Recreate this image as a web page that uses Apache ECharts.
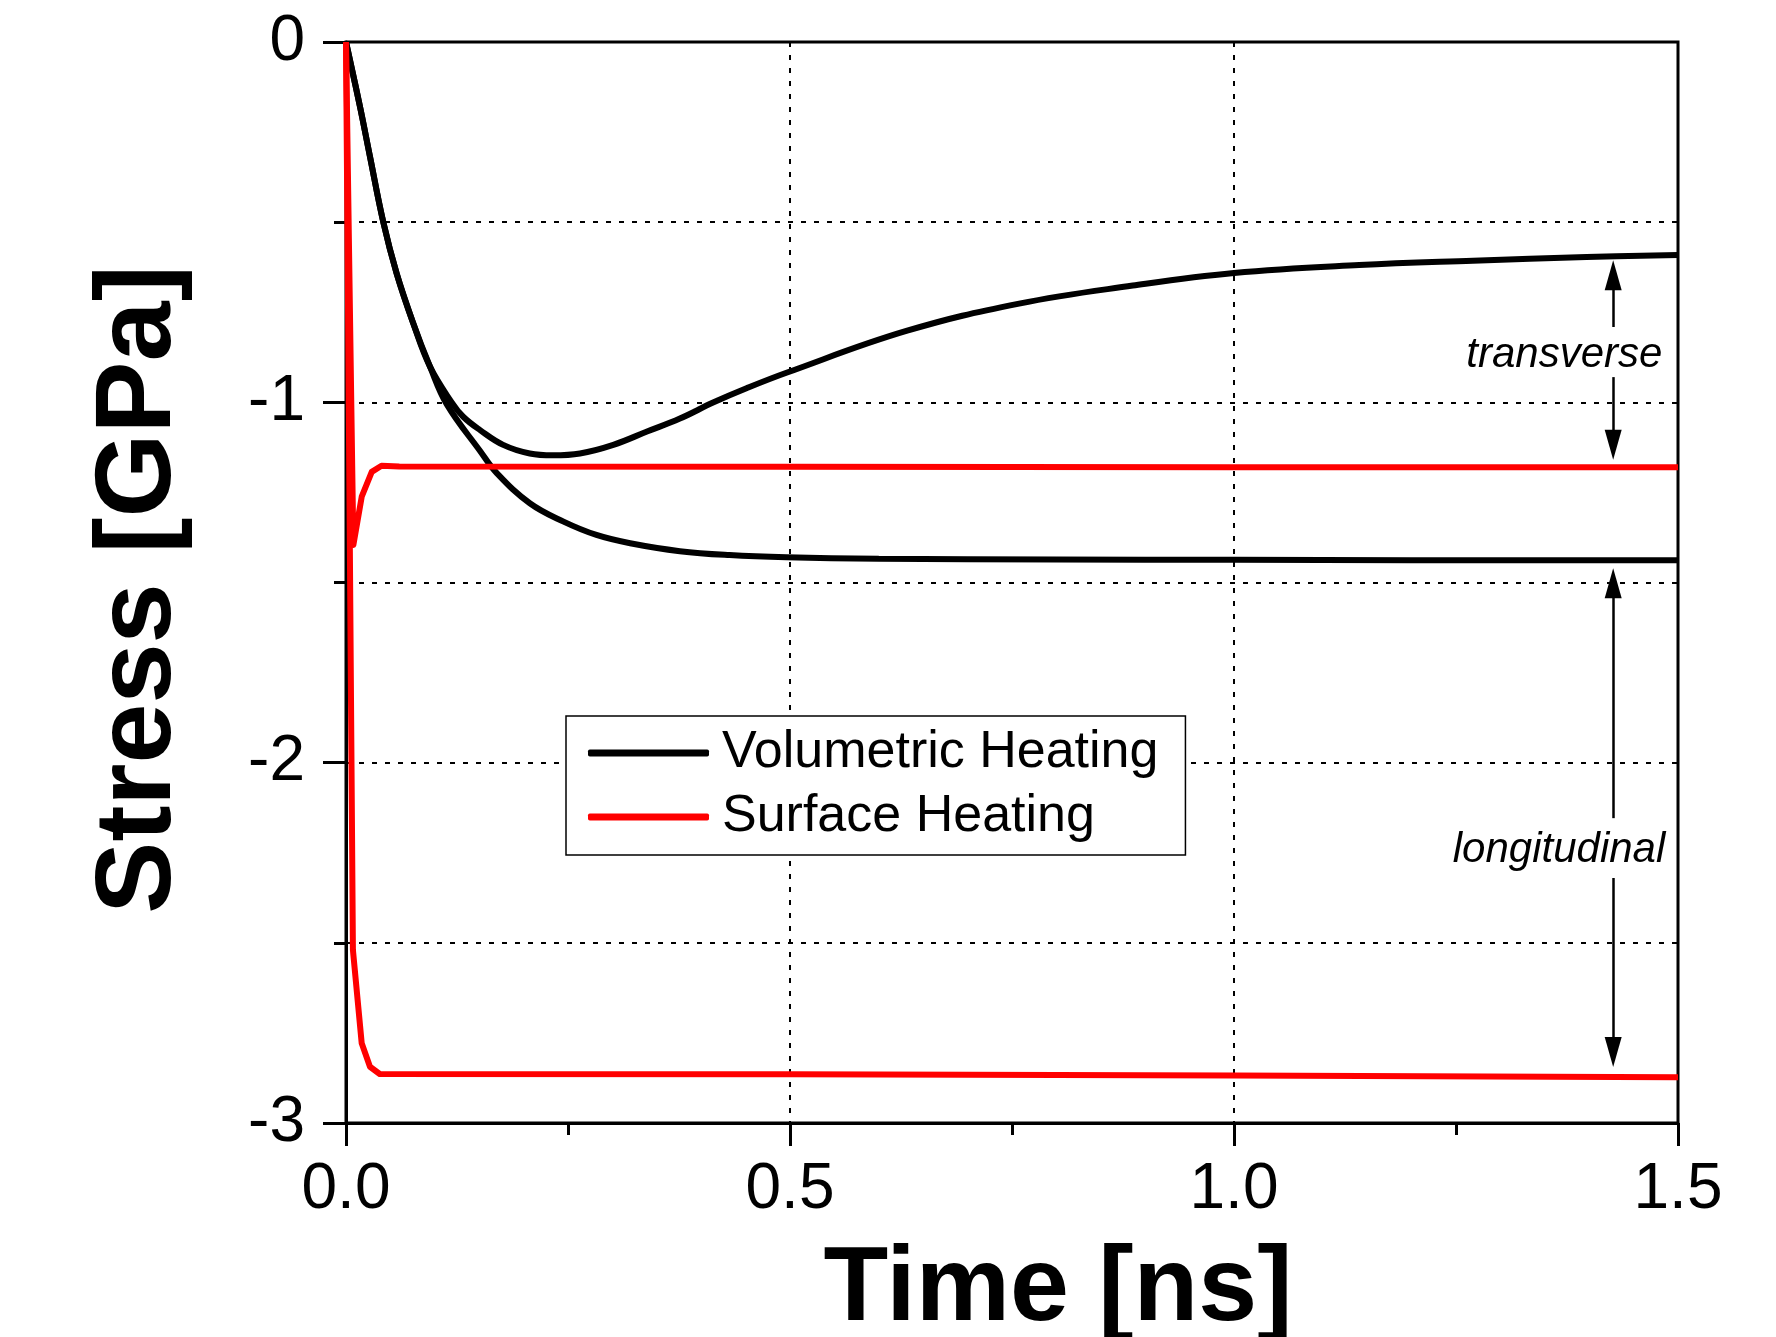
<!DOCTYPE html>
<html>
<head>
<meta charset="utf-8">
<title>Stress vs time</title>
<script src="https://cdn.jsdelivr.net/npm/echarts@6/dist/echarts.min.js"></script>
<style>
  html, body { margin: 0; padding: 0; background: #fff; }
  #chart { width: 1776px; height: 1337px; }
</style>
</head>
<body>
<div id="chart"></div>
<script>
// Volumetric heating, transverse component (upper black curve)
var volTransT = [0, 0.0158, 0.027, 0.042, 0.057, 0.0758, 0.0946, 0.119, 0.132, 0.151, 0.177, 0.207, 0.233, 0.2635, 0.301, 0.339, 0.376, 0.414, 0.451, 0.496, 0.631, 0.758, 0.886, 1.0, 1.141, 1.269, 1.397, 1.5];
var volTransS = [0, -0.180, -0.318, -0.500, -0.642, -0.781, -0.901, -1.0, -1.040, -1.077, -1.118, -1.142, -1.147, -1.142, -1.118, -1.081, -1.045, -1.000, -0.961, -0.918, -0.802, -0.726, -0.676, -0.641, -0.619, -0.607, -0.597, -0.591];

// Volumetric heating, longitudinal component (lower black curve)
var volLongT = [0, 0.0158, 0.027, 0.042, 0.057, 0.0758, 0.0946, 0.1134, 0.151, 0.170, 0.207, 0.245, 0.282, 0.320, 0.376, 0.432, 0.496, 0.6, 0.8, 1.0, 1.2, 1.5];
var volLongS = [0, -0.180, -0.318, -0.500, -0.642, -0.781, -0.901, -1.005, -1.135, -1.197, -1.280, -1.331, -1.368, -1.391, -1.413, -1.424, -1.430, -1.434, -1.436, -1.437, -1.438, -1.438];

// Surface heating, transverse (upper red)
var surfTransT = [0, 0.0083, 0.0177, 0.029, 0.040, 0.06, 0.5, 1.0, 1.5];
var surfTransS = [0, -1.396, -1.262, -1.193, -1.176, -1.178, -1.179, -1.180, -1.180];

// Surface heating, longitudinal (lower red)
var surfLongT = [0, 0.0078, 0.0177, 0.027, 0.038, 0.5, 1.0, 1.5];
var surfLongS = [0, -2.52, -2.779, -2.844, -2.864, -2.865, -2.868, -2.873];

// Annotation arrows (time, from stress, to stress)
var arrowT = 1.427;
var arrowFrom = [-0.791, -0.930, -2.154, -2.320];
var arrowTo = [-0.647, -1.118, -1.502, -2.803];

// Annotation labels
var noteText = ['transverse', 'longitudinal'];
var noteT = [1.372, 1.366];
var noteS = [-0.870, -2.243];

var FONT = 'Liberation Sans, Arial, sans-serif';

function zip(xs, ys) {
  return xs.map(function(x, i) { return [x, ys[i]]; });
}

document.addEventListener('DOMContentLoaded', function() {
  var chart = echarts.init(document.getElementById('chart'), null, {renderer: 'canvas'});

  var dotted = {color: '#000', width: 2, type: [5, 8]};

  var option = {
    animation: false,
    backgroundColor: '#fff',
    grid: {
      left: 346, right: 98, top: 42, bottom: 214,
      outerBoundsMode: 'none',
      show: true, borderColor: '#000', borderWidth: 3,
      backgroundColor: 'transparent'
    },
    legend: {
      data: ['Volumetric Heating', 'Surface Heating'],
      orient: 'vertical',
      left: 566, top: 716,
      padding: [9, 27, 10, 22],
      itemGap: 8,
      icon: 'roundRect',
      itemWidth: 121, itemHeight: 7,
      backgroundColor: '#fff',
      borderColor: '#000', borderWidth: 1.5, borderRadius: 0,
      textStyle: {fontFamily: FONT, fontSize: 52, color: '#000', lineHeight: 56, padding: [0, 0, 0, 8]}
    },
    xAxis: {
      type: 'value',
      min: 0, max: 1.5, interval: 0.5,
      name: 'Time [ns]',
      nameLocation: 'middle',
      nameGap: 115,
      nameTextStyle: {fontFamily: FONT, fontSize: 106, fontWeight: 'bold', color: '#000', lineHeight: 106, padding: [0, 0, 0, 92]},
      axisLine: {show: true, onZero: false, lineStyle: {color: '#000', width: 3}},
      axisTick: {show: true, inside: false, length: 23, lineStyle: {color: '#000', width: 3}},
      minorTick: {show: true, splitNumber: 2, length: 12, lineStyle: {color: '#000', width: 3}},
      axisLabel: {
        margin: 35, fontFamily: FONT, fontSize: 64, color: '#000', lineHeight: 64,
        formatter: function(v) { return v.toFixed(1); }
      },
      splitLine: {show: true, lineStyle: dotted},
      minorSplitLine: {show: false}
    },
    yAxis: {
      type: 'value',
      min: -3, max: 0, interval: 1,
      name: 'Stress [GPa]',
      nameLocation: 'middle',
      nameRotate: 90,
      nameGap: 152,
      nameTextStyle: {fontFamily: FONT, fontSize: 108, fontWeight: 'bold', color: '#000', lineHeight: 108, padding: [0, 14, 0, 0]},
      axisLine: {show: true, onZero: false, lineStyle: {color: '#000', width: 3}},
      axisTick: {show: true, inside: false, length: 23, lineStyle: {color: '#000', width: 3}},
      minorTick: {show: true, splitNumber: 2, length: 12, lineStyle: {color: '#000', width: 3}},
      axisLabel: {margin: 41, fontFamily: FONT, fontSize: 64, color: '#000'},
      splitLine: {show: true, lineStyle: dotted},
      minorSplitLine: {show: true, lineStyle: dotted}
    },
    series: [
      {
        name: 'Volumetric Heating', type: 'line', data: zip(volTransT, volTransS),
        symbol: 'none', smooth: 0.4,
        lineStyle: {color: '#000', width: 6}, itemStyle: {color: '#000'}, z: 3
      },
      {
        name: 'Volumetric Heating', type: 'line', data: zip(volLongT, volLongS),
        symbol: 'none', smooth: 0.4,
        lineStyle: {color: '#000', width: 6}, itemStyle: {color: '#000'}, z: 3
      },
      {
        name: 'Surface Heating', type: 'line', data: zip(surfTransT, surfTransS),
        symbol: 'none', lineStyle: {color: '#f00', width: 6, join: 'round'}, itemStyle: {color: '#f00'}, z: 4
      },
      {
        name: 'Surface Heating', type: 'line', data: zip(surfLongT, surfLongS),
        symbol: 'none', lineStyle: {color: '#f00', width: 6, join: 'round'}, itemStyle: {color: '#f00'}, z: 4
      },
      {
        name: 'arrows', type: 'line', data: [], silent: true,
        markLine: {
          silent: true,
          symbol: ['none', 'triangle'],
          symbolSize: [17, 30],
          label: {show: false},
          lineStyle: {color: '#000', width: 2.5, type: 'solid'},
          data: arrowFrom.map(function(f, i) {
            return [{coord: [arrowT, f]}, {coord: [arrowT, arrowTo[i]]}];
          })
        }
      },
      {
        name: 'notes', type: 'scatter', silent: true,
        symbolSize: 1,
        itemStyle: {color: 'transparent'},
        data: noteText.map(function(s, i) { return {name: s, value: [noteT[i], noteS[i]]}; }),
        label: {
          show: true, position: 'inside', formatter: '{b}',
          fontFamily: FONT, fontSize: 42, fontStyle: 'italic', color: '#000',
          textBorderWidth: 0, opacity: 1
        }
      }
    ]
  };

  chart.setOption(option);
});
</script>
</body>
</html>
